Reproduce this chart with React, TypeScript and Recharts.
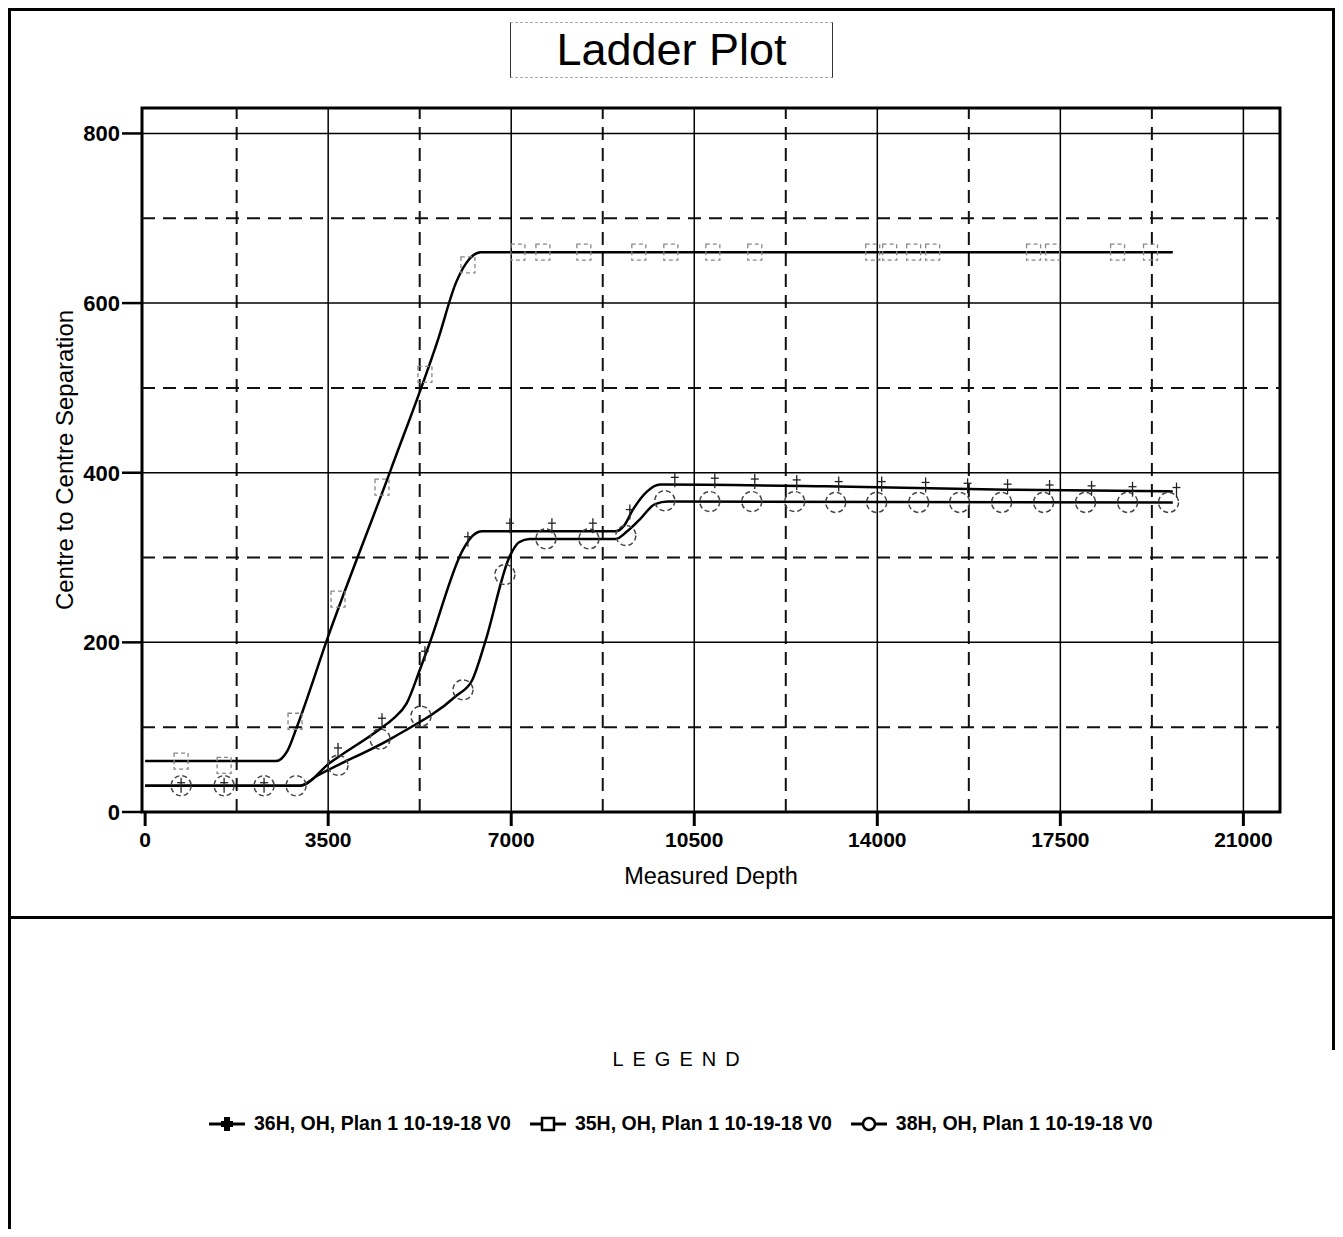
import React from 'react';
import {
  ComposedChart,
  Line,
  Scatter,
  XAxis,
  YAxis,
  ReferenceLine,
  ReferenceArea,
} from 'recharts';

/**
 * Ladder plot - centre to centre separation vs measured depth
 */

const FONT = '"Liberation Sans", Arial, Helvetica, sans-serif';

// axis ticks
const X_TICKS = [0, 3500, 7000, 10500, 14000, 17500, 21000];
const X_MINOR = [1750, 5250, 8750, 12250, 15750, 19250];
const Y_TICKS = [0, 200, 400, 600, 800];
const Y_MINOR = [100, 300, 500, 700];

// 36H, OH, Plan 1 - curve
const W36_DEPTH = [0, 2960, 3535, 4491, 4745, 5000, 5255, 5446, 6083, 6250, 6450, 9000, 9150, 9333, 9600, 9850, 13000, 16500, 19650];
const W36_SEP = [31, 31, 58, 98, 110, 128, 168, 200, 310, 325, 331, 331, 337, 357, 378, 386, 384, 380, 378];
// 36H markers
const W36_MARK_DEPTH = [688, 1510, 2274, 3688, 4529, 5350, 6172, 6975, 7778, 8561, 9268, 10128, 10893, 11657, 12459, 13262, 14084, 14924, 15727, 16491, 17294, 18097, 18880, 19721];
const W36_MARK_SEP = [31, 31, 31, 72, 107, 186, 321, 337, 337, 337, 353, 391, 390, 389, 388, 386, 386, 385, 384, 383, 382, 381, 380, 379];

// 35H, OH, Plan 1 - curve
const W35_DEPTH = [0, 2500, 2720, 2900, 3500, 4700, 5600, 5950, 6200, 6420, 19650];
const W35_SEP = [60, 60, 72, 100, 207, 404, 557, 625, 652, 660, 660];
// 35H markers
const W35_MARK_DEPTH = [688, 1510, 2866, 3688, 4529, 5350, 6172, 7128, 7606, 8389, 9440, 10052, 10855, 11657, 13912, 14237, 14695, 15058, 16988, 17351, 18594, 19224];
const W35_MARK_SEP = [60, 55, 107, 251, 383, 516, 645, 660, 660, 660, 660, 660, 660, 660, 660, 660, 660, 660, 660, 660, 660, 660];

// 38H, OH, Plan 1 - curve
const W38_DEPTH = [0, 2960, 3300, 4745, 5950, 6250, 6500, 6975, 7150, 7350, 9000, 9200, 9460, 9750, 10000, 19650];
const W38_SEP = [31, 31, 43, 88, 137, 155, 200, 302, 318, 322, 322, 330, 345, 363, 366, 365];
// 38H markers
const W38_MARK_DEPTH = [688, 1510, 2274, 2886, 3688, 4491, 5274, 6077, 6879, 7663, 8485, 9192, 9937, 10797, 11600, 12421, 13205, 13988, 14791, 15574, 16377, 17180, 17982, 18785, 19568];
const W38_MARK_SEP = [31, 31, 31, 31, 55, 86, 113, 144, 280, 322, 322, 326, 367, 366, 366, 366, 365, 365, 365, 365, 365, 365, 365, 365, 365];

const SERIES_NAMES = [
  '36H, OH, Plan 1 10-19-18 V0',
  '35H, OH, Plan 1 10-19-18 V0',
  '38H, OH, Plan 1 10-19-18 V0',
];

const zip = (depth: number[], sep: number[]) =>
  depth.map((d, i) => ({ depth: d, sep: sep[i] }));

const w36 = zip(W36_DEPTH, W36_SEP);
const w35 = zip(W35_DEPTH, W35_SEP);
const w38 = zip(W38_DEPTH, W38_SEP);
const m36 = zip(W36_MARK_DEPTH, W36_MARK_SEP);
const m35 = zip(W35_MARK_DEPTH, W35_MARK_SEP);
const m38 = zip(W38_MARK_DEPTH, W38_MARK_SEP);

const X_DOMAIN: [number, number] = [-60, 21700];
const Y_DOMAIN: [number, number] = [0, 830];

const PlusMark = (props: any) => {
  const { cx, cy } = props;
  if (cx == null || cy == null) return null;
  return (
    <g stroke="#222" strokeWidth={1.3}>
      <line x1={cx} y1={cy - 8} x2={cx} y2={cy + 7} />
      <line x1={cx - 4} y1={cy - 3} x2={cx + 4} y2={cy - 3} />
    </g>
  );
};

const SquareMark = (props: any) => {
  const { cx, cy } = props;
  if (cx == null || cy == null) return null;
  return (
    <rect
      x={cx - 7}
      y={cy - 8}
      width={14}
      height={16}
      fill="none"
      stroke="#888"
      strokeWidth={1.3}
      strokeDasharray="4 3"
    />
  );
};

const CircleMark = (props: any) => {
  const { cx, cy } = props;
  if (cx == null || cy == null) return null;
  return (
    <circle
      cx={cx}
      cy={cy}
      r={10}
      fill="none"
      stroke="#444"
      strokeWidth={1.5}
      strokeDasharray="5 3"
    />
  );
};

const LegendGlyph = ({ kind }: { kind: string }) => (
  <svg width={36} height={20} style={{ display: 'block' }}>
    <line x1={0} y1={10} x2={36} y2={10} stroke="#000" strokeWidth={3} />
    {kind === 'plus' && (
      <g fill="#000">
        <rect x={15} y={3} width={6} height={14} />
        <rect x={12} y={7} width={12} height={6} />
      </g>
    )}
    {kind === 'square' && (
      <rect x={12} y={4} width={12} height={12} fill="#fff" stroke="#000" strokeWidth={2.5} />
    )}
    {kind === 'circle' && (
      <circle cx={18} cy={10} r={6} fill="#fff" stroke="#000" strokeWidth={2.5} />
    )}
  </svg>
);

const GLYPHS = ['plus', 'square', 'circle'];

export default function App() {
  return (
    <div
      style={{
        position: 'relative',
        width: 1327,
        height: 1221,
        fontFamily: FONT,
        color: '#000',
      }}
    >
      {/* outer frame */}
      <div style={{ position: 'absolute', left: 0, top: 0, width: 3, height: 1221, background: '#000' }} />
      <div style={{ position: 'absolute', left: 0, top: 0, width: 1327, height: 3, background: '#000' }} />
      <div style={{ position: 'absolute', left: 1324, top: 0, width: 3, height: 1042, background: '#000' }} />
      <div style={{ position: 'absolute', left: 0, top: 908, width: 1327, height: 3, background: '#000' }} />

      {/* title */}
      <div
        style={{
          position: 'absolute',
          left: 502,
          top: 14,
          width: 323,
          height: 56,
          borderLeft: '1.5px solid #333',
          borderRight: '1.5px solid #333',
          borderTop: '1px dashed #aaa',
          borderBottom: '1px dashed #aaa',
          boxSizing: 'border-box',
          textAlign: 'center',
          fontSize: 45,
          lineHeight: '54px',
        }}
      >
        Ladder Plot
      </div>

      <div style={{ position: 'absolute', left: 0, top: 0 }}>
        <ComposedChart
          width={1300}
          height={900}
          margin={{ top: 100, right: 28, bottom: 26, left: 0 }}
        >
          <XAxis
            type="number"
            dataKey="depth"
            domain={X_DOMAIN}
            allowDataOverflow
            ticks={X_TICKS}
            interval={0}
            height={70}
            axisLine={false}
            tickSize={14}
            tickMargin={6}
            tickLine={{ stroke: '#000', strokeWidth: 3 }}
            tick={{ fill: '#000', fontSize: 21, fontWeight: 'bold', fontFamily: FONT }}
            label={{
              value: 'Measured Depth',
              position: 'insideBottom',
              offset: -2,
              fill: '#000',
              fontSize: 23.5,
              fontFamily: FONT,
            }}
          />
          <YAxis
            type="number"
            dataKey="sep"
            domain={Y_DOMAIN}
            allowDataOverflow
            ticks={Y_TICKS}
            interval={0}
            width={134}
            axisLine={false}
            tickSize={20}
            tickMargin={2}
            tickLine={{ stroke: '#000', strokeWidth: 2.5 }}
            tick={{ fill: '#000', fontSize: 22, fontWeight: 'bold', fontFamily: FONT }}
            label={{
              value: 'Centre to Centre Separation',
              angle: -90,
              position: 'center',
              dx: -11,
              fill: '#000',
              fontSize: 24,
              fontFamily: FONT,
            }}
          />

          {Y_MINOR.map((v) => (
            <ReferenceLine key={`ym${v}`} y={v} stroke="#111" strokeWidth={2} strokeDasharray="13 8" />
          ))}
          {X_MINOR.map((v) => (
            <ReferenceLine key={`xm${v}`} x={v} stroke="#111" strokeWidth={2} strokeDasharray="13 8" />
          ))}
          {Y_TICKS.filter((v) => v > 0).map((v) => (
            <ReferenceLine key={`y${v}`} y={v} stroke="#000" strokeWidth={1.5} />
          ))}
          {X_TICKS.filter((v) => v > 0).map((v) => (
            <ReferenceLine key={`x${v}`} x={v} stroke="#000" strokeWidth={1.5} />
          ))}

          <Line data={w35} dataKey="sep" type="monotone" stroke="#000" strokeWidth={2.5} dot={false} activeDot={false} isAnimationActive={false} />
          <Line data={w38} dataKey="sep" type="monotone" stroke="#000" strokeWidth={2.5} dot={false} activeDot={false} isAnimationActive={false} />
          <Line data={w36} dataKey="sep" type="monotone" stroke="#000" strokeWidth={2.5} dot={false} activeDot={false} isAnimationActive={false} />

          <Scatter data={m35} dataKey="sep" shape={SquareMark} isAnimationActive={false} />
          <Scatter data={m38} dataKey="sep" shape={CircleMark} isAnimationActive={false} />
          <Scatter data={m36} dataKey="sep" shape={PlusMark} isAnimationActive={false} />

          <ReferenceArea
            x1={X_DOMAIN[0]}
            x2={X_DOMAIN[1]}
            y1={Y_DOMAIN[0]}
            y2={Y_DOMAIN[1]}
            fill="none"
            fillOpacity={0}
            stroke="#000"
            strokeWidth={3}
          />
        </ComposedChart>
      </div>

      {/* legend */}
      <div
        style={{
          position: 'absolute',
          left: 0,
          top: 1040,
          width: 1345,
          textAlign: 'center',
          fontSize: 20,
          letterSpacing: 9,
        }}
      >
        LEGEND
      </div>
      <div
        style={{
          position: 'absolute',
          left: 201,
          top: 1104,
          display: 'flex',
          alignItems: 'center',
          fontSize: 19.5,
          fontWeight: 'bold',
          whiteSpace: 'nowrap',
        }}
      >
        {SERIES_NAMES.map((name, i) => (
          <div key={name} style={{ display: 'flex', alignItems: 'center', marginRight: 19 }}>
            <LegendGlyph kind={GLYPHS[i]} />
            <span style={{ marginLeft: 9 }}>{name}</span>
          </div>
        ))}
      </div>
    </div>
  );
}
